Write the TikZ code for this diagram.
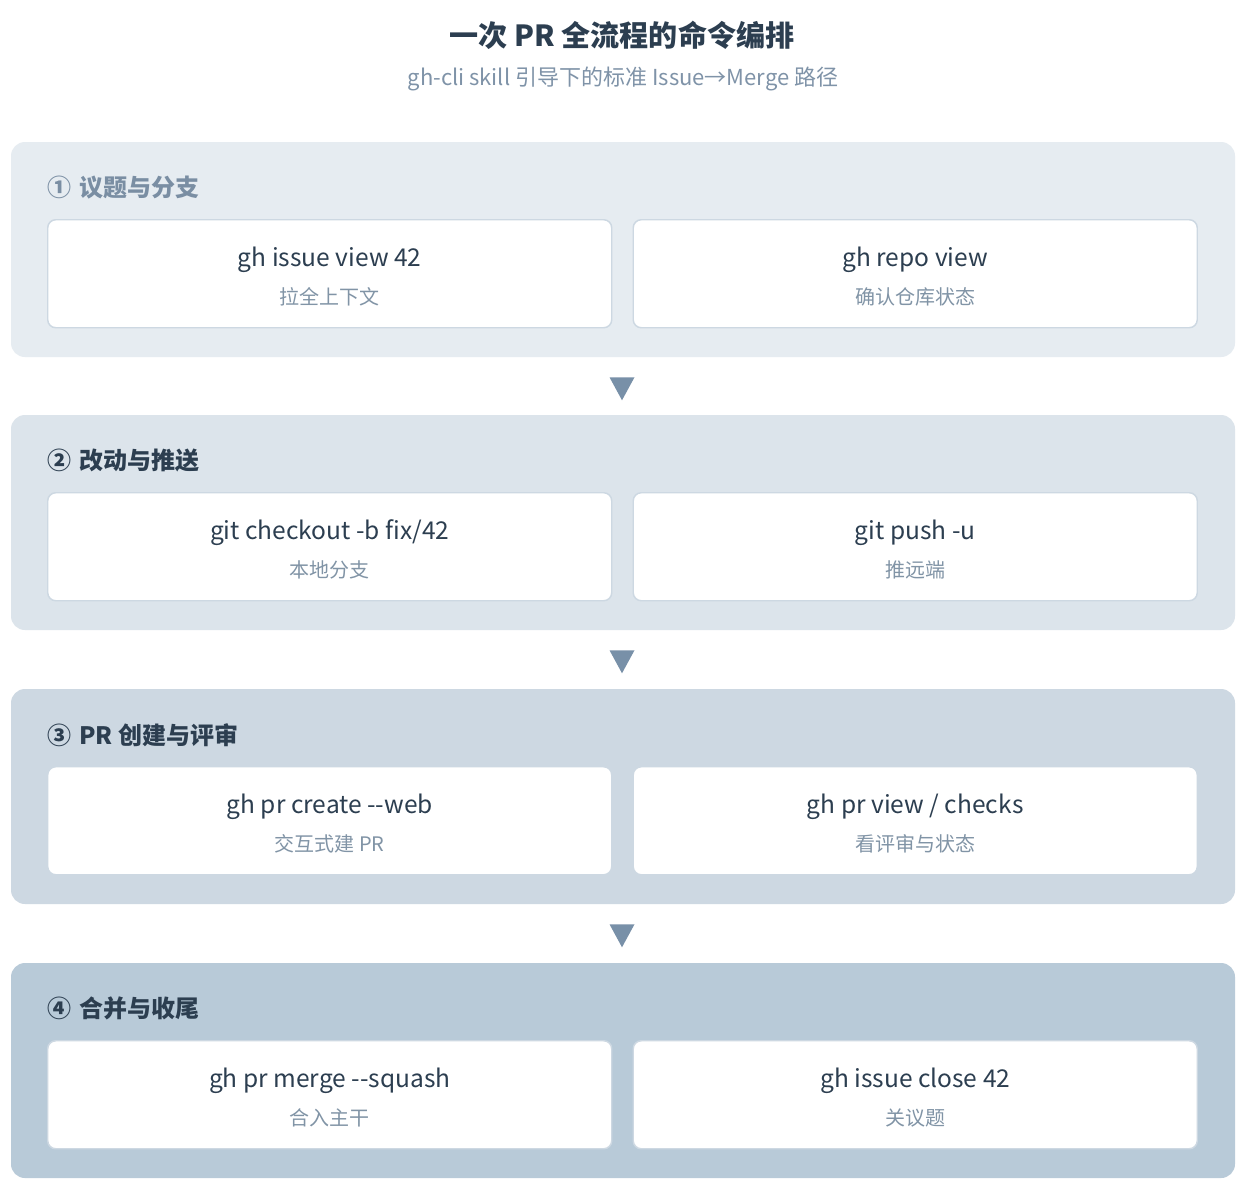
\documentclass[tikz,border=0pt]{standalone}
\usepackage{fontspec}
\setmainfont{Noto Sans CJK SC}
\usetikzlibrary{positioning,calc}

\definecolor{ink}{HTML}{2C3E50}
\definecolor{mute}{HTML}{7F93A8}
\definecolor{notec}{HTML}{8194A6}
\definecolor{headlt}{HTML}{7A8EA3}
\definecolor{arrowc}{HTML}{7890A8}
\definecolor{bordc}{HTML}{CDD8E2}
\definecolor{pone}{HTML}{E6ECF1}
\definecolor{ptwo}{HTML}{DCE4EB}
\definecolor{pthree}{HTML}{CDD8E2}
\definecolor{pfour}{HTML}{B8CAD8}

\begin{document}
\begin{tikzpicture}[x=0.75pt,y=-0.75pt,
  panel/.style={rounded corners=10.5pt, minimum width=918pt, minimum height=161.25pt, inner sep=0pt},
  box/.style={draw=bordc, line width=1.1pt, fill=white, rounded corners=6pt,
    minimum width=423pt, minimum height=81pt, inner sep=0pt},
  head/.style={anchor=west, inner sep=0pt, font=\fontsize{18pt}{21pt}\selectfont\bfseries},
  cmd/.style={inner sep=0pt, text=ink, font=\fontsize{18.4pt}{22pt}\selectfont},
  note/.style={inner sep=0pt, text=notec, font=\fontsize{15pt}{18pt}\selectfont}]
  \useasboundingbox[fill=white] (0,0) rectangle (1244,1190);

  % title
  \node[inner sep=0pt, text=ink, font=\fontsize{21.8pt}{26pt}\selectfont\bfseries] (title) at (622,35) {一次 PR 全流程的命令编排};
  \node[inner sep=0pt, text=mute, font=\fontsize{16.5pt}{20pt}\selectfont] (subtitle) at (623,79) {gh-cli skill 引导下的标准 Issue→Merge 路径};

  % stage 1
  \node[panel, fill=pone] (p1) at (623,249.5) {};
  \node[head, text=headlt] (h1) at ($(p1.north west)+(36,46)$) {① \hspace{2pt}议题与分支};
  \node[box] (b1l) at ($(p1.north west)+(319,132)$) {};
  \node[box] (b1r) at ($(p1.north west)+(904.5,132)$) {};
  \node[cmd] (c1l) at ($(b1l.center)+(0,-14)$) {gh issue view 42};
  \node[note] (n1l) at ($(b1l.center)+(0,23)$) {拉全上下文};
  \node[cmd] (c1r) at ($(b1r.center)+(0,-14)$) {gh repo view};
  \node[note] (n1r) at ($(b1r.center)+(0,23)$) {确认仓库状态};

  % stage 2
  \node[panel, fill=ptwo] (p2) at (623,522.5) {};
  \node[head, text=ink] (h2) at ($(p2.north west)+(36,46)$) {② \hspace{2pt}改动与推送};
  \node[box] (b2l) at ($(p2.north west)+(319,132)$) {};
  \node[box] (b2r) at ($(p2.north west)+(904.5,132)$) {};
  \node[cmd] (c2l) at ($(b2l.center)+(0,-14)$) {git checkout -b fix/42};
  \node[note] (n2l) at ($(b2l.center)+(0,23)$) {本地分支};
  \node[cmd] (c2r) at ($(b2r.center)+(0,-14)$) {git push -u};
  \node[note] (n2r) at ($(b2r.center)+(0,23)$) {推远端};

  % stage 3
  \node[panel, fill=pthree] (p3) at (623,796.5) {};
  \node[head, text=ink] (h3) at ($(p3.north west)+(36,46)$) {③ \hspace{2pt}PR 创建与评审};
  \node[box] (b3l) at ($(p3.north west)+(319,132)$) {};
  \node[box] (b3r) at ($(p3.north west)+(904.5,132)$) {};
  \node[cmd] (c3l) at ($(b3l.center)+(0,-14)$) {gh pr create -{}-web};
  \node[note] (n3l) at ($(b3l.center)+(0,23)$) {交互式建 PR};
  \node[cmd] (c3r) at ($(b3r.center)+(0,-14)$) {gh pr view / checks};
  \node[note] (n3r) at ($(b3r.center)+(0,23)$) {看评审与状态};

  % stage 4
  \node[panel, fill=pfour] (p4) at (623,1070.5) {};
  \node[head, text=ink] (h4) at ($(p4.north west)+(36,46)$) {④ \hspace{2pt}合并与收尾};
  \node[box] (b4l) at ($(p4.north west)+(319,132)$) {};
  \node[box] (b4r) at ($(p4.north west)+(904.5,132)$) {};
  \node[cmd] (c4l) at ($(b4l.center)+(0,-14)$) {gh pr merge -{}-squash};
  \node[note] (n4l) at ($(b4l.center)+(0,23)$) {合入主干};
  \node[cmd] (c4r) at ($(b4r.center)+(0,-14)$) {gh issue close 42};
  \node[note] (n4r) at ($(b4r.center)+(0,23)$) {关议题};

  % arrows between stages
  \fill[arrowc] ($(p1.south)+(-13.5,20)$) -- ++(25,0) -- ++(-12.5,23) -- cycle;
  \fill[arrowc] ($(p2.south)+(-13.5,20)$) -- ++(25,0) -- ++(-12.5,23) -- cycle;
  \fill[arrowc] ($(p3.south)+(-13.5,20)$) -- ++(25,0) -- ++(-12.5,23) -- cycle;
\end{tikzpicture}
\end{document}
